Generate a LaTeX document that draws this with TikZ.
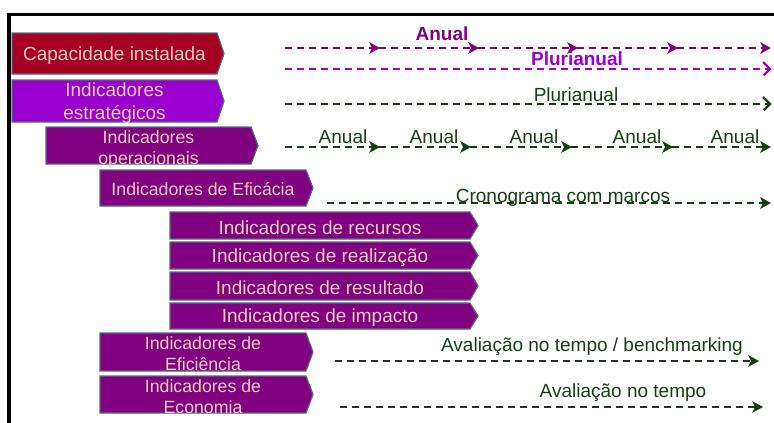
\documentclass[tikz,border=0pt]{standalone}
\usepackage{fontspec}
\setmainfont{Liberation Sans}
\usepackage{xcolor}
\usepackage{tikz}
\usetikzlibrary{decorations.markings}
\usetikzlibrary{positioning}
\definecolor{capred}{RGB}{165,0,33}
\definecolor{estviolet}{RGB}{153,0,204}
\definecolor{indpurple}{RGB}{128,0,128}
\definecolor{boxedge}{RGB}{84,104,134}
\definecolor{boxtxt}{RGB}{236,206,190}
\definecolor{tgreen}{RGB}{18,64,18}
\tikzset{
  ind box/.style={draw=boxedge,line width=1.2},
  ind text/.style={text=boxtxt,align=center,inner sep=0,yshift=-2,font=\fontsize{19}{23}\selectfont},
  ind small/.style={text=boxtxt,align=center,inner sep=0,yshift=-2,font=\fontsize{17.7}{21}\selectfont},
  time/.style={dash pattern=on 7pt off 5pt,line width=2},
  % filled tip, drawn solid on top of the dashed line
  time arrow/.style={time,shorten >=4pt,postaction={decorate,decoration={markings,
    mark=at position 1 with {\fill[solid] (1pt,0) -- (-10pt,6pt) -- (-7pt,0) -- (-10pt,-6pt) -- cycle;}}}},
  % open tip
  time open/.style={time,shorten >=1pt,postaction={decorate,decoration={markings,
    mark=at position 1 with {\draw[solid,line width=2.2,line join=miter] (-7pt,7pt) -- (0,0) -- (-7pt,-7pt);}}}},
  time label/.style={inner sep=0,anchor=base,font=\fontsize{19}{23}\selectfont},
  time bold/.style={time label,font=\fontsize{19}{23}\selectfont\bfseries}
}
% name, fill, left, top, flat right end, bottom, tip depth, text
\newcommand{\indbox}[9][ind text]{%
  \draw[ind box,fill=#3] (#4,#5) -- (#6,#5) -- ({#6+#8},{(#5+#7)/2}) -- (#6,#7) -- (#4,#7) -- cycle;
  \node[#1] (#2) at ({(#4+#6)/2},{(#5+#7)/2}) {#9};}

\begin{document}
\begin{tikzpicture}[x=1pt,y=-1pt]
  \useasboundingbox (0,0) rectangle (774,423);
  \clip (0,0) rectangle (774,423);
  \draw[line width=3.6] (8.7,430) |- (780,14.5);

  \indbox{cap}{capred}{12}{33}{217}{74}{7}{Capacidade instalada}
  \indbox{estr}{estviolet}{12}{80}{217}{122}{7}{Indicadores\\estratégicos}
  \indbox[ind small,yshift=-1.5]{oper}{indpurple}{46}{127}{251}{164}{7}{Indicadores\\operacionais}
  \indbox[ind small,yshift=0.5]{efic}{indpurple}{100}{170}{306}{206}{7}{Indicadores de Eficácia}
  \indbox{recu}{indpurple}{170}{212}{470}{239}{8}{Indicadores de recursos}
  \indbox{real}{indpurple}{170}{242}{470}{269}{8}{Indicadores de realização}
  \indbox{resu}{indpurple}{170}{272}{470}{300}{8}{Indicadores de resultado}
  \indbox{impa}{indpurple}{170}{303}{470}{329}{8}{Indicadores de impacto}
  \indbox[ind small]{efin}{indpurple}{100}{333}{306}{371}{7}{Indicadores de\\Eficiência}
  \indbox[ind small]{econ}{indpurple}{100}{376}{306}{413}{7}{Indicadores de\\Economia}

  % annual marks, capacity
  \foreach \x [count=\i] in {285,379,478,577,677,770}
    \coordinate (ca\i) at (\x,48);
  \foreach \i [evaluate=\i as \j using int(\i+1)] in {1,...,5}
    \draw[time arrow,indpurple] (ca\i) -- (ca\j);
  \node[time bold,indpurple] (cap anual) at (442,40.5) {Anual};

  \coordinate (cp1) at (285,69);
  \coordinate (cp2) at (770,69);
  \draw[time open,estviolet] (cp1) -- (cp2);
  \node[time bold,estviolet] (cap pluri) at (577,65.7) {Plurianual};

  \coordinate (es1) at (285,104);
  \coordinate (es2) at (770,104);
  \draw[time open,tgreen] (es1) -- (es2);
  \node[time label,tgreen] (estr pluri) at (576,101.7) {Plurianual};

  \foreach \x [count=\i] in {285,379,470,571,672,770}
    \coordinate (op\i) at (\x,147);
  \foreach \i [evaluate=\i as \j using int(\i+1)] in {1,...,5}
    \draw[time arrow,tgreen] (op\i) -- (op\j);
  \foreach \x [count=\i] in {343,434,534,637,735}
    \node[time label,tgreen] (op anual\i) at (\x,143) {Anual};

  \coordinate (ef1) at (327,203);
  \coordinate (ef2) at (770,203);
  \draw[time arrow,tgreen] (ef1) -- (ef2);
  \node[time label,tgreen] (cronograma) at (563,202.3) {Cronograma com marcos};

  \coordinate (en1) at (335,361);
  \coordinate (en2) at (758,361);
  \draw[time arrow,tgreen] (en1) -- (en2);
  \node[time label,tgreen] (bench) at (592,351.7) {Avaliação no tempo / benchmarking};

  \coordinate (ec1) at (340,407);
  \coordinate (ec2) at (762,407);
  \draw[time arrow,tgreen] (ec1) -- (ec2);
  \node[time label,tgreen] (tempo) at (623,397.7) {Avaliação no tempo};
\end{tikzpicture}
\end{document}
